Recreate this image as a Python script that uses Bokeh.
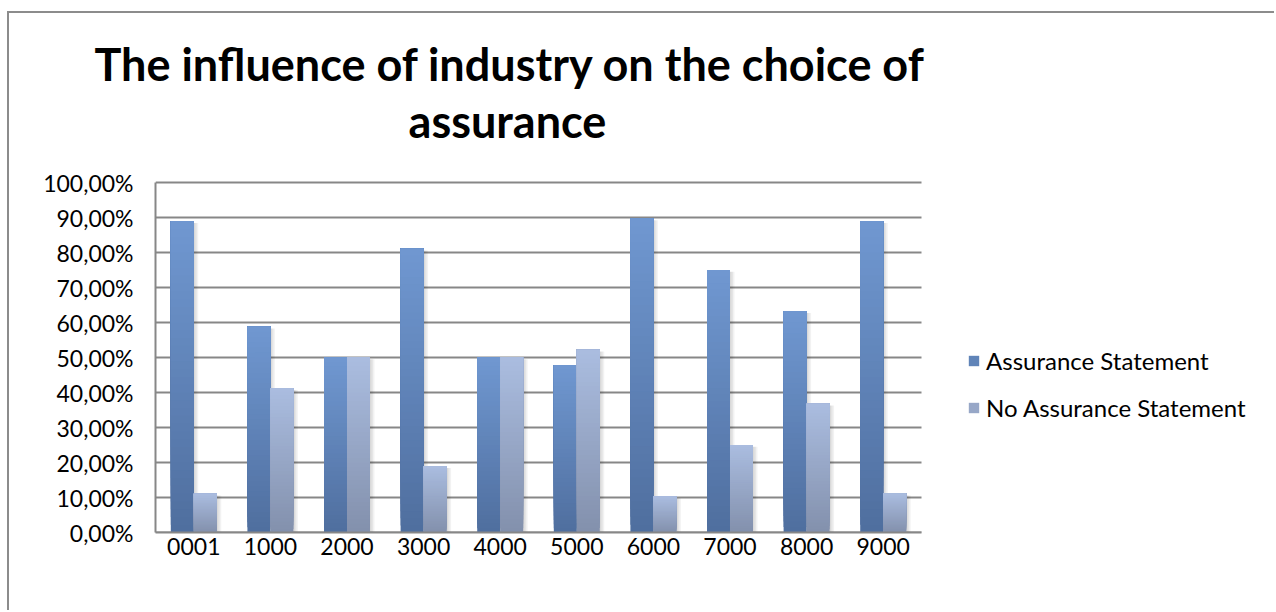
from bokeh.plotting import figure
from bokeh.models import (ColumnDataSource, Range1d, FixedTicker, CustomJSTickFormatter,
                          Legend, LegendItem, Label, Title)
from bokeh.embed import file_html
from bokeh.resources import INLINE

# Share of companies (in %) per industry code
industries = ["0001", "1000", "2000", "3000", "4000", "5000", "6000", "7000", "8000", "9000"]
assurance = [88.9, 58.8, 50.0, 81.1, 50.0, 47.8, 89.7, 75.0, 63.2, 88.9]
no_assurance = [11.1, 41.2, 50.0, 18.9, 50.0, 52.2, 10.3, 25.0, 36.8, 11.1]
series_names = ["Assurance Statement", "No Assurance Statement"]
y_ticks = [0, 10, 20, 30, 40, 50, 60, 70, 80, 90, 100]
title_lines = ["The influence of industry on the choice of", "assurance"]

FONT = "Lato"
GRID = "#878787"
BAR_W = 0.30
N_STEPS = 40

# page layout (pixels)
PLOT_W, PLOT_H = 1267, 599
LEFT, TOP, BOTTOM = 146, 77, 80          # borders around the drawing area
AXIS_W, AXIS_H = 766, 350                 # part of the area covered by the axes
FRAME_W = PLOT_W - LEFT
FRAME_H = PLOT_H - TOP - BOTTOM

# (bottom colour, top colour) of the vertical gradient of each series
gradients = [((79, 110, 158), (112, 152, 209)),
             ((130, 144, 172), (171, 189, 224))]


def hex_color(rgb):
    return "#%02x%02x%02x" % tuple(int(round(c)) for c in rgb)


n = len(industries)
centers = [i + 0.5 for i in range(n)]
y_max = y_ticks[-1]


def gradient_source(values, offset, colors):
    """Each bar is split into stacked bands, lower bands first; every band
    reaches the bar top so the next one simply paints over it (no seams)."""
    c0, c1 = colors
    xs, bottoms, tops, fills = [], [], [], []
    for k in range(N_STEPS):
        t = (k + 0.5) / N_STEPS
        col = hex_color([a + (b - a) * t for a, b in zip(c0, c1)])
        for x, v in zip(centers, values):
            xs.append(x + offset)
            bottoms.append(v * k / N_STEPS)
            tops.append(v)
            fills.append(col)
    return ColumnDataSource(dict(x=xs, bottom=bottoms, top=tops, color=fills))


p = figure(x_range=Range1d(0, n * FRAME_W / AXIS_W),
           y_range=Range1d(0, y_max * FRAME_H / AXIS_H),
           width=PLOT_W, height=PLOT_H, title=None,
           output_backend="svg", toolbar_location=None,
           min_border_left=LEFT, min_border_right=0,
           min_border_top=TOP, min_border_bottom=BOTTOM)
p.margin = (11, 0, 0, 7)
p.styles = {"border-top": "2px solid #8c8c8c", "border-left": "2px solid #8c8c8c"}
p.outline_line_color = None
p.background_fill_color = "white"
p.border_fill_color = "white"
p.xgrid.visible = False
p.ygrid.visible = False

# horizontal gridlines across the category area
p.segment(x0=[0] * len(y_ticks), x1=[n] * len(y_ticks), y0=y_ticks, y1=y_ticks,
          line_color=GRID, line_width=2)

# soft drop shadow on the right of every bar
offsets = [-BAR_W / 2, BAR_W / 2]
px = AXIS_W / n
for values, off in zip([assurance, no_assurance], offsets):
    for d in (1.5, 3.0, 4.5):
        p.vbar(x=[c + off + d / px for c in centers], top=[v - 0.5 for v in values],
               bottom=0, width=BAR_W, fill_color="black", fill_alpha=0.05,
               line_color=None)

renderers = []
for values, off, colors in zip([assurance, no_assurance], offsets, gradients):
    src = gradient_source(values, off, colors)
    r = p.vbar(x="x", top="top", bottom="bottom", width=BAR_W, source=src,
               fill_color="color", line_color=None)
    renderers.append(r)

# axes
p.xaxis.bounds = (0, n)
p.xaxis.ticker = FixedTicker(ticks=centers)
p.xaxis.major_label_overrides = {c: name for c, name in zip(centers, industries)}
p.yaxis.bounds = (0, y_max)
p.yaxis.ticker = FixedTicker(ticks=y_ticks)
p.yaxis.formatter = CustomJSTickFormatter(
    code="return tick.toFixed(2).replace('.', ',') + '%';")
for ax in (p.xaxis, p.yaxis):
    ax.axis_line_color = GRID
    ax.axis_line_width = 2
    ax.major_tick_line_color = None
    ax.minor_tick_line_color = None
    ax.major_tick_out = 0
    ax.major_tick_in = 0
    ax.major_label_text_font = FONT
    ax.major_label_text_font_size = "23px"
    ax.major_label_text_color = "black"
p.yaxis.major_label_standoff = 22
p.xaxis.major_label_standoff = 5

# legend
mid = (N_STEPS // 2) * n
items = [LegendItem(label=name, renderers=[r], index=mid)
         for name, r in zip(series_names, renderers)]
legend = Legend(items=items, location=(812, 110), orientation="vertical",
                glyph_width=13, glyph_height=13, label_height=20, spacing=18,
                label_standoff=6, padding=0, margin=0,
                label_text_font=FONT, label_text_font_size="24px",
                label_text_color="black", border_line_color=None,
                background_fill_alpha=0)
p.add_layout(legend)

# bold two-line title
title_style = dict(text_font=FONT, text_font_style="bold", text_font_size="45px",
                   text_color="black")
p.add_layout(Title(text=title_lines[0], align="left", offset=-61, standoff=0,
                   vertical_align="bottom", **title_style), "above")
p.add_layout(Label(x=352, y=412, x_units="screen", y_units="screen", text=title_lines[1],
                   text_align="center", text_baseline="alphabetic", **title_style))

open("out.html", "w").write(file_html(p, INLINE))
